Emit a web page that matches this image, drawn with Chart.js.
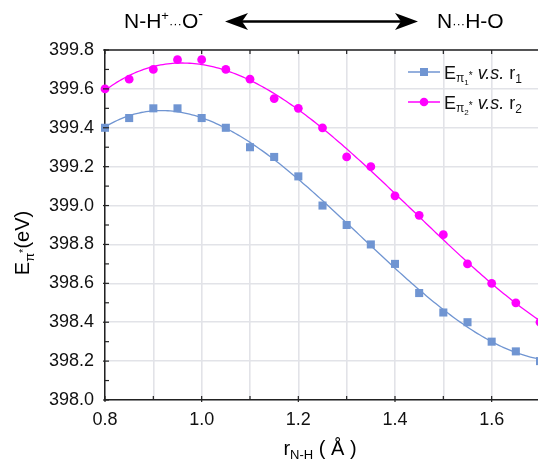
<!DOCTYPE html>
<html>
<head>
<meta charset="utf-8">
<script src="https://cdn.jsdelivr.net/npm/chart.js@4.4.1/dist/chart.umd.min.js"></script>
<style>
html,body{margin:0;padding:0;background:#fff;}
#wrap{width:538px;height:460px;position:relative;}
</style>
</head>
<body>
<div id="wrap"><canvas id="c" width="538" height="460"></canvas></div>
<script>
// ---- data ----
const rNH = [0.80,0.85,0.90,0.95,1.00,1.05,1.10,1.15,1.20,1.25,1.30,1.35,1.40,1.45,1.50,1.55,1.60,1.65,1.70];
const ePi1 = [399.40,399.45,399.50,399.50,399.45,399.40,399.30,399.25,399.15,399.00,398.90,398.80,398.70,398.55,398.45,398.40,398.30,398.25,398.20];
const ePi2 = [399.60,399.65,399.70,399.75,399.75,399.70,399.65,399.55,399.50,399.40,399.25,399.20,399.05,398.95,398.85,398.70,398.60,398.50,398.40];
const xGridTicks = [0.8,0.9,1.0,1.1,1.2,1.3,1.4,1.5,1.6,1.7];
const xTickLabels = ['0.8','','1.0','','1.2','','1.4','','1.6',''];
const yTicks = [398.0,398.2,398.4,398.6,398.8,399.0,399.2,399.4,399.6,399.8];
const yTickLabels = ['398.0','398.2','398.4','398.6','398.8','399.0','399.2','399.4','399.6','399.8'];

const BLUE = '#7095d2';
const MAGENTA = '#ff00ff';
const FONT = '"Liberation Sans", Arial, sans-serif';

// cubic least-squares fit of the read points (the reference shows fitted curves)
function polyFit(xs, ys, deg) {
  const n = deg + 1, c = 1.25;
  const A = Array.from({length:n}, () => new Array(n + 1).fill(0));
  xs.forEach((x0, k) => {
    const x = x0 - c;
    for (let i = 0; i < n; i++) {
      for (let j = 0; j < n; j++) A[i][j] += Math.pow(x, i + j);
      A[i][n] += ys[k] * Math.pow(x, i);
    }
  });
  for (let i = 0; i < n; i++) {
    let p = i;
    for (let r = i + 1; r < n; r++) if (Math.abs(A[r][i]) > Math.abs(A[p][i])) p = r;
    [A[i], A[p]] = [A[p], A[i]];
    for (let r = 0; r < n; r++) {
      if (r === i) continue;
      const f = A[r][i] / A[i][i];
      for (let k = i; k <= n; k++) A[r][k] -= f * A[i][k];
    }
  }
  const coef = A.map((row, i) => row[n] / row[i]);
  return x => coef.reduce((s, a, i) => s + a * Math.pow(x - c, i), 0);
}
function fitCurve(xs, ys) {
  const f = polyFit(xs, ys, 3);
  const out = [];
  const x0 = xs[0], x1 = xs[xs.length - 1];
  for (let i = 0; i <= 180; i++) {
    const x = x0 + (x1 - x0) * i / 180;
    out.push({x: x, y: f(x)});
  }
  return out;
}

// rich text helper: segments [{t,size,dy,italic}]
function richWidth(ctx, segs) {
  let w = 0;
  segs.forEach(s => { ctx.font = (s.italic ? 'italic ' : '') + s.size + 'px ' + FONT; w += ctx.measureText(s.t).width; });
  return w;
}
function drawRich(ctx, x, y, segs, align) {
  let w = richWidth(ctx, segs);
  let cx = align === 'center' ? x - w / 2 : x;
  ctx.textBaseline = 'alphabetic';
  ctx.textAlign = 'left';
  segs.forEach(s => {
    ctx.font = (s.italic ? 'italic ' : '') + s.size + 'px ' + FONT;
    ctx.fillText(s.t, cx, y + (s.dy || 0));
    cx += ctx.measureText(s.t).width;
  });
}

// the reference's plot area runs a little past the right edge of the picture
const stretchRight = {
  id: 'stretchRight',
  afterLayout(chart) {
    const a = chart.chartArea, xs = chart.scales.x;
    a.right = 540; a.width = a.right - a.left;
    xs.right = 540; xs.width = xs.right - xs.left;
    xs.configure();
  }
};

const decor = {
  id: 'decor',
  afterDraw(chart) {
    const ctx = chart.ctx;
    const a = chart.chartArea;
    const xs = chart.scales.x, ys = chart.scales.y;
    ctx.save();
    ctx.fillStyle = '#111';
    ctx.strokeStyle = '#222';
    // top border
    ctx.lineWidth = 1.5;
    ctx.beginPath(); ctx.moveTo(a.left, a.top); ctx.lineTo(a.right + 2, a.top); ctx.stroke();
    // tick marks (inward)
    ctx.lineWidth = 1.2;
    xGridTicks.forEach((v, i) => {
      const px = xs.getPixelForValue(v);
      const major = xTickLabels[i] !== '';
      ctx.beginPath(); ctx.moveTo(px, a.bottom + (major ? 2 : 0)); ctx.lineTo(px, a.bottom - 4); ctx.stroke();
      ctx.beginPath(); ctx.moveTo(px, a.top); ctx.lineTo(px, a.top + 4); ctx.stroke();
    });
    for (let v = 0; v <= 18; v++) {
      const py = ys.getPixelForValue(398 + v * 0.1);
      ctx.beginPath(); ctx.moveTo(a.left - (v % 2 === 0 ? 2 : 0), py); ctx.lineTo(a.left + 4, py); ctx.stroke();
    }
    // top annotation
    ctx.fillStyle = '#000';
    drawRich(ctx, 124, 28, [
      {t:'N-H', size:21}, {t:'+', size:13, dy:-8}, {t:'···', size:13}, {t:'O', size:21}, {t:'-', size:14, dy:-9}
    ], 'left');
    drawRich(ctx, 437, 28, [
      {t:'N', size:21}, {t:'···', size:13}, {t:'H-O', size:21}
    ], 'left');
    // double arrow
    const ay = 21.5, xl = 225, xr = 418;
    ctx.strokeStyle = '#000'; ctx.lineWidth = 2.6;
    ctx.beginPath(); ctx.moveTo(xl + 12, ay); ctx.lineTo(xr - 12, ay); ctx.stroke();
    ctx.beginPath();
    ctx.moveTo(xl, ay); ctx.lineTo(xl + 23, ay - 8.5); ctx.lineTo(xl + 17, ay); ctx.lineTo(xl + 23, ay + 8.5); ctx.closePath(); ctx.fill();
    ctx.beginPath();
    ctx.moveTo(xr, ay); ctx.lineTo(xr - 23, ay - 8.5); ctx.lineTo(xr - 17, ay); ctx.lineTo(xr - 23, ay + 8.5); ctx.closePath(); ctx.fill();
    // y axis title
    ctx.save();
    ctx.translate(29, 243);
    ctx.rotate(-Math.PI / 2);
    const ySegs = [{t:'E', size:20}, {t:'π', size:13, dy:5}, {t:'*', size:11, dy:-2}, {t:'(eV)', size:20}];
    drawRich(ctx, 0, 0, ySegs, 'center');
    ctx.restore();
    // x axis title
    drawRich(ctx, 320, 455, [
      {t:'r', size:20}, {t:'N-H', size:13, dy:4}, {t:' ( Å )', size:20}
    ], 'center');
    // legend
    const rows = [
      {c: BLUE, style: 'rect', y: 72, sub: '1'},
      {c: MAGENTA, style: 'circle', y: 102, sub: '2'}
    ];
    rows.forEach(r => {
      ctx.strokeStyle = r.c; ctx.fillStyle = r.c; ctx.lineWidth = 1.5;
      ctx.beginPath(); ctx.moveTo(408, r.y); ctx.lineTo(440, r.y); ctx.stroke();
      if (r.style === 'rect') ctx.fillRect(424 - 4, r.y - 4, 8, 8);
      else { ctx.beginPath(); ctx.arc(424, r.y, 4.3, 0, Math.PI * 2); ctx.fill(); }
      ctx.fillStyle = '#111';
      drawRich(ctx, 444, r.y + 7, [
        {t:'E', size:18}, {t:'π', size:12, dy:3}, {t:r.sub, size:8, dy:6}, {t:'*', size:10, dy:0},
        {t:' v.s.', size:18, italic:true}, {t:' r', size:18}, {t:r.sub, size:12, dy:4}
      ], 'left');
    });
    ctx.restore();
  }
};

new Chart(document.getElementById('c'), {
  type: 'scatter',
  data: {
    datasets: [
      {label:'fit1', data: fitCurve(rNH, ePi1), showLine:true, borderColor:BLUE, borderWidth:1.3, pointRadius:0, order:3},
      {label:'fit2', data: fitCurve(rNH, ePi2), showLine:true, borderColor:MAGENTA, borderWidth:1.3, pointRadius:0, order:4},
      {label:'E1', data: rNH.map((x, i) => ({x:x, y:ePi1[i]})), showLine:false, pointStyle:'rect', pointRadius:5.7,
       backgroundColor:BLUE, borderColor:BLUE, borderWidth:0, clip:false, order:1},
      {label:'E2', data: rNH.map((x, i) => ({x:x, y:ePi2[i]})), showLine:false, pointStyle:'circle', pointRadius:4.4,
       backgroundColor:MAGENTA, borderColor:MAGENTA, borderWidth:0, clip:false, order:2}
    ]
  },
  options: {
    responsive: false,
    animation: false,
    events: [],
    layout: {padding: {left:0, top:50, right:0, bottom:0}},
    plugins: {legend:{display:false}, tooltip:{enabled:false}},
    scales: {
      x: {
        type:'linear', min:0.8, max:1.7,
        afterBuildTicks: s => { s.ticks = xGridTicks.map(v => ({value:v})); },
        afterFit: s => { s.height = 60; s.paddingRight = 0; s.paddingLeft = 0; },
        ticks: {autoSkip:false, maxRotation:0, padding:9, color:'#111',
                font:{family:FONT, size:18},
                callback: (v, i) => xTickLabels[i]},
        grid: {color:'#e2e3e8', lineWidth:1.6, drawTicks:false},
        border: {color:'#222', width:1.5}
      },
      y: {
        min:398.0, max:399.8,
        afterBuildTicks: s => { s.ticks = yTicks.map(v => ({value:v})); },
        afterFit: s => { s.width = 105; s.paddingTop = 0; s.paddingBottom = 0; },
        ticks: {padding:11, color:'#111', font:{family:FONT, size:18},
                callback: (v, i) => yTickLabels[i]},
        grid: {color:'#e2e3e8', lineWidth:1.6, drawTicks:false},
        border: {color:'#222', width:1.5}
      }
    }
  },
  plugins: [stretchRight, decor]
});
</script>
</body>
</html>
